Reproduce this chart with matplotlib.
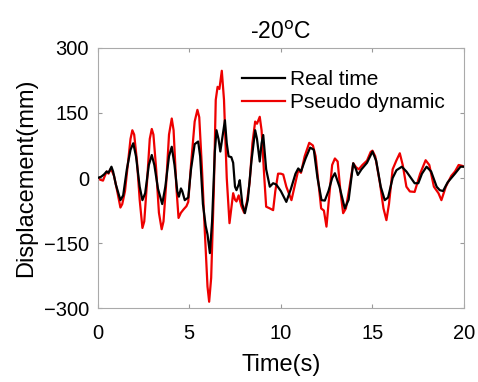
import numpy as np
import matplotlib.pyplot as plt

plt.rcParams['font.family'] = ['Liberation Sans', 'DejaVu Sans']

# time (s) and displacement (mm)
t_real = [0, 0.2, 0.35, 0.5, 0.6, 0.76, 0.85, 1.0, 1.25, 1.4, 1.6, 1.8, 1.95, 2.1,
          2.3, 2.45, 2.6, 2.8, 2.96, 3.1, 3.3, 3.53, 3.7, 3.9, 4.05, 4.2, 4.35,
          4.44, 4.55, 4.62, 4.76, 4.95, 5.1, 5.3, 5.49, 5.6, 5.75, 5.9, 6.0,
          6.13, 6.25, 6.4, 6.49, 6.6, 6.7, 6.8, 6.95, 7.05, 7.15, 7.3, 7.4,
          7.5, 7.58, 7.7, 7.76, 7.9, 8.04, 8.2, 8.4, 8.6, 8.7, 8.85, 8.95,
          9.04, 9.2, 9.4, 9.58, 9.75, 10.0, 10.3, 10.55, 10.8, 10.95, 11.1,
          11.35, 11.6, 11.8, 12.0, 12.22, 12.4, 12.6, 12.8, 12.95, 13.2, 13.49,
          13.7, 13.95, 14.1, 14.2, 14.4, 14.7, 15.0, 15.2, 15.45, 15.67, 15.85,
          16.1, 16.31, 16.6, 16.85, 17.1, 17.3, 17.5, 17.7, 17.95, 18.2, 18.5,
          18.67, 18.85, 19.1, 19.5, 19.8, 20.0]
v_real = [0, 3, 8, 15, 12, 26, 15, -15, -51, -40, 20, 65, 80, 50,
          -20, -51, -35, 30, 53, 30, -25, -60, -20, 50, 72, 30, -30,
          -43, -24, -30, -51, -45, 20, 78, 84, 50, -60, -110, -130,
          -173, -100, 60, 110, 90, 61, 90, 133, 80, 50, 48, 35,
          -20, -28, -15, -5, -60, -81, -50, 40, 110, 90, 38, 80,
          99, 20, -20, -12, -15, -30, -55, -25, 10, 22, 15,
          45, 70, 65, 0, -51, -52, -30, 0, 11, -20, -70,
          -50, 34, 20, 7, 20, 35, 61, 40, -20, -51, -45,
          0, 18, 26, 15, 0, -12, -12, 10, 26, 15, -20,
          -28, -30, -10, 10, 26, 26]

t_pseudo = [0, 0.15, 0.3, 0.4, 0.5, 0.6, 0.7, 0.8, 0.9, 1.05, 1.25, 1.35, 1.5,
            1.65, 1.8, 1.9, 2.0, 2.15, 2.3, 2.45, 2.55, 2.7, 2.85, 2.96, 3.05,
            3.2, 3.35, 3.5, 3.6, 3.75, 3.9, 4.05, 4.15, 4.3, 4.42, 4.55, 4.7,
            4.85, 4.95, 5.1, 5.3, 5.45, 5.55, 5.7, 5.85, 6.0, 6.09, 6.2, 6.35,
            6.45, 6.55, 6.65, 6.78, 6.9, 7.05, 7.2, 7.3, 7.4, 7.5, 7.58, 7.7,
            7.85, 8.0, 8.15, 8.3, 8.45, 8.6, 8.7, 8.85, 8.95, 9.1, 9.2, 9.4,
            9.58, 9.7, 9.85, 10.0, 10.13, 10.3, 10.58, 10.8, 10.95, 11.1, 11.3,
            11.55, 11.75, 11.9, 12.05, 12.2, 12.35, 12.49, 12.6, 12.8, 12.95,
            13.1, 13.25, 13.4, 13.55, 13.75, 13.95, 14.1, 14.25, 14.45, 14.7,
            14.9, 15.0, 15.15, 15.4, 15.6, 15.76, 15.9, 16.1, 16.3, 16.49,
            16.65, 16.85, 17.04, 17.3, 17.6, 17.9, 18.1, 18.35, 18.6, 18.76,
            19.0, 19.3, 19.5, 19.7, 19.9, 20.0]
v_pseudo = [0, -4, -6, 5, 15, 10, 20, 15, 5, -25, -68, -60, -30,
            30, 90, 110, 100, 40, -50, -115, -100, -10, 90, 113, 100,
            20, -80, -118, -100, -10, 100, 137, 110, -20, -92, -80, -72,
            -65, -55, 30, 130, 157, 140, 20, -120, -250, -285, -230, -20,
            180, 210, 205, 247, 180, 0, -104, -70, -35, -50, -54, -40,
            -65, -80, -55, -10, 80, 130, 125, 141, 110, 0, -66, -70,
            -74, -30, 10, 10, 8, -20, -51, -10, 18, 12, 50,
            81, 75, 50, -10, -70, -75, -112, -60, 30, 45,
            38, -30, -81, -70, -20, 34, 25, 20, 30, 40,
            60, 63, 50, -10, -70, -97, -60, 20, 40, 57,
            30, -20, -31, -32, 10, 41, 30, -20, -35, -51,
            -20, 5, 15, 30, 28, 26]

x_ticks = [0, 5, 10, 15, 20]
y_ticks = [-300, -150, 0, 150, 300]

fig = plt.figure(figsize=(4.78, 3.82), dpi=100)
ax = fig.add_axes([0.204, 0.193, 0.767, 0.682])

ax.plot(t_real, v_real, color='black', lw=1.6, label='Real time', zorder=3,
        solid_joinstyle='round')
ax.plot(t_pseudo, v_pseudo, color='#ee0000', lw=1.6, label='Pseudo dynamic', zorder=2,
        solid_joinstyle='round')

ax.set_xlim(0, 20)
ax.set_ylim(-300, 300)
ax.set_xticks(x_ticks)
ax.set_yticks(y_ticks)
ax.tick_params(direction='in', top=True, right=True, labelsize=14.5, length=3,
               color='#999999')
ax.tick_params(axis='x', pad=11)
ax.tick_params(axis='y', pad=6)
for s in ax.spines.values():
    s.set_color('#aaaaaa')
    s.set_linewidth(0.8)

ax.set_xlabel('Time(s)', fontsize=17, labelpad=8)
ax.set_ylabel('Displacement(mm)', fontsize=17, labelpad=5)
ax.set_title('-20$^\\mathrm{o}$C', fontsize=16.5, pad=6)

ax.legend(loc='upper left', frameon=False, fontsize=15, handlelength=2.05,
          handletextpad=0.25, borderpad=0, borderaxespad=0, labelspacing=0.2,
          bbox_to_anchor=(0.394, 0.915))

fig.savefig('out.png', dpi=100)
